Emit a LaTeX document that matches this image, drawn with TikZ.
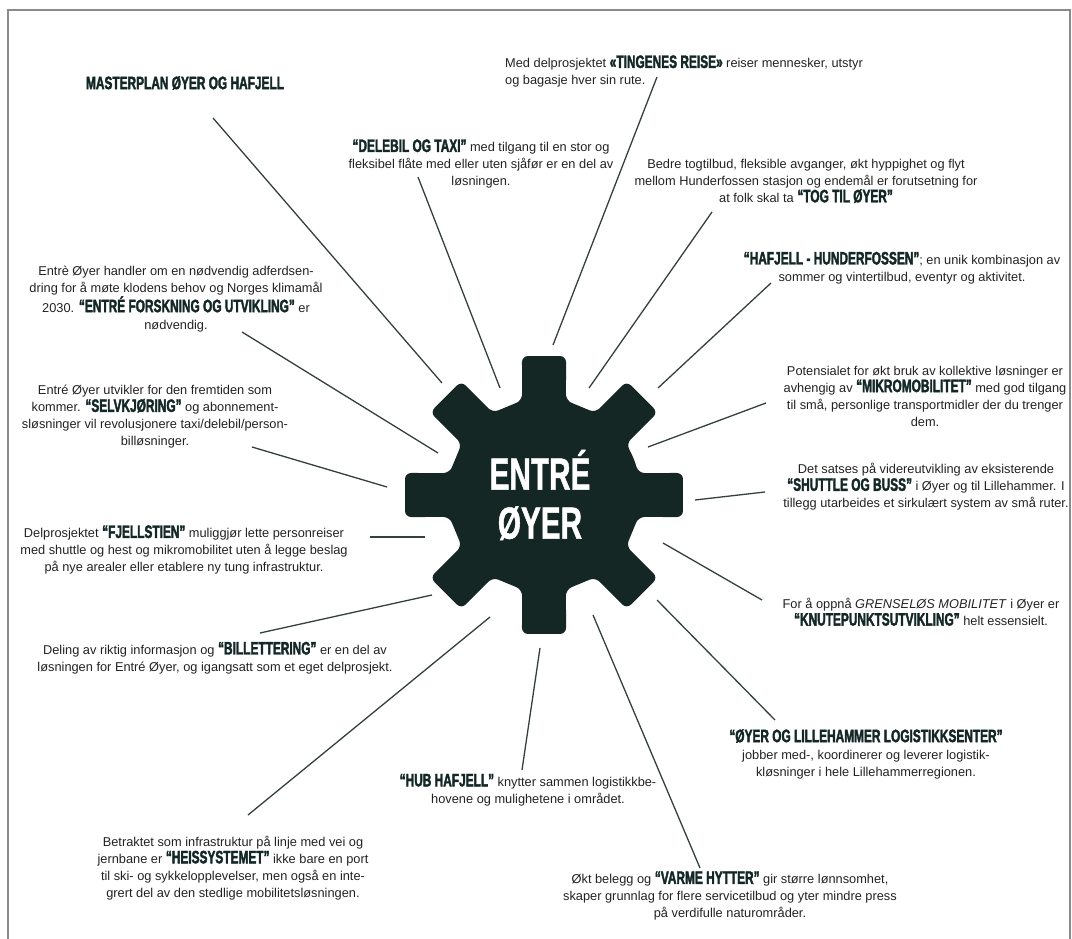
\documentclass[tikz,border=0pt]{standalone}
\usepackage{fontspec}
\setmainfont{Liberation Sans}
\newfontfamily\headfont{Liberation Sans}[FakeStretch=0.66,FakeBold=2]
\newfontfamily\gearfont{Liberation Sans}[FakeStretch=0.66,FakeBold=1]
\newcommand{\hd}[1]{{\headfont\bfseries\fontsize{18}{17}\selectfont\color{headtext}#1}}

\definecolor{gearfill}{HTML}{142725}
\definecolor{headtext}{HTML}{132826}
\definecolor{spoke}{HTML}{33403F}
\definecolor{framegray}{HTML}{8A8A8A}
\definecolor{bodytext}{HTML}{222222}
\tikzset{
  note/.style={align=center,inner sep=0pt,text=bodytext,
    font=\fontsize{12.8}{17}\selectfont},
  spokeline/.style={draw=spoke,line width=1.3pt},
  title/.style={inner sep=0pt,text=headtext,
    font=\headfont\bfseries\fontsize{18}{18}\selectfont},
}

\begin{document}
\begin{tikzpicture}[x=1pt,y=-1pt]
  \useasboundingbox (0,0) rectangle (1072,939);
  \draw[framegray,line width=2pt] (8,960) -- (8,10) -- (1070,10) -- (1070,960);

  % gear
  \begin{scope}[shift={(544,495)}]
    \fill[gearfill,rounded corners=6pt] (-22.5:97)
      \foreach \t in {0,45,...,315} {
        -- (\t-13.1:97) -- (\t-9:140.7) -- (\t+9:140.7) -- (\t+13.1:97)
      } -- cycle;
  \end{scope}
  \node[text=white,align=center,inner sep=0pt,
    font=\gearfont\bfseries\fontsize{45}{49}\selectfont] (entre) at (540,495) {ENTRÉ\\ØYER};

  % texts
  \node[title] (masterplan) at (185,83) {MASTERPLAN ØYER OG HAFJELL};
  \node[note,anchor=west,align=left] (tingenes) at (505,71.5)
    {Med delprosjektet \hd{«TINGENES REISE»} reiser mennesker, utstyr\\og bagasje hver sin rute.};
  \node[note] (delebil) at (481,164)
    {\hd{“DELEBIL OG TAXI”} med tilgang til en stor og\\fleksibel flåte med eller uten sjåfør er en del av\\løsningen.};
  \node[note] (tog) at (806,181)
    {Bedre togtilbud, fleksible avganger, økt hyppighet og flyt\\mellom Hunderfossen stasjon og endemål er forutsetning for\\at folk skal ta \hd{“TOG TIL ØYER”}};
  \node[note] (forskning) at (176,299)
    {Entrè Øyer handler om en nødvendig adferdsen-\\dring for å møte klodens behov og Norges klimamål\\2030. \hd{“ENTRÉ FORSKNING OG UTVIKLING”} er\\nødvendig.};
  \node[note] (hafjell) at (902,268)
    {\hd{“HAFJELL - HUNDERFOSSEN”}; en unik kombinasjon av\\sommer og vintertilbud, eventyr og aktivitet.};
  \node[note] (mikro) at (925,396)
    {Potensialet for økt bruk av kollektive løsninger er\\avhengig av \hd{“MIKROMOBILITET”} med god tilgang\\til små, personlige transportmidler der du trenger\\dem.};
  \node[note] (selvkjoring) at (155,417)
    {Entré Øyer utvikler for den fremtiden som\\kommer. \hd{“SELVKJØRING”} og abonnement-\\sløsninger vil revolusjonere taxi/delebil/person-\\billøsninger.};
  \node[note] (shuttle) at (926,487)
    {Det satses på videreutvikling av eksisterende\\\hd{“SHUTTLE OG BUSS”} i Øyer og til Lillehammer. I\\tillegg utarbeides et sirkulært system av små ruter.};
  \node[note] (fjellstien) at (184,550)
    {Delprosjektet \hd{“FJELLSTIEN”} muliggjør lette personreiser\\med shuttle og hest og mikromobilitet uten å legge beslag\\på nye arealer eller etablere ny tung infrastruktur.};
  \node[note] (knutepunkt) at (921,612)
    {For å oppnå \textit{GRENSELØS MOBILITET} i Øyer er\\\hd{“KNUTEPUNKTSUTVIKLING”} helt essensielt.};
  \node[note] (billettering) at (215,658)
    {Deling av riktig informasjon og \hd{“BILLETTERING”} er en del av\\løsningen for Entré Øyer, og igangsatt som et eget delprosjekt.};
  \node[note] (logistikk) at (866,754)
    {\hd{“ØYER OG LILLEHAMMER LOGISTIKKSENTER”}\\jobber med-, koordinerer og leverer logistik-\\kløsninger i hele Lillehammerregionen.};
  \node[note] (hub) at (528,790)
    {\hd{“HUB HAFJELL”} knytter sammen logistikkbe-\\hovene og mulighetene i området.};
  \node[note] (heis) at (233,868)
    {Betraktet som infrastruktur på linje med vei og\\jernbane er \hd{“HEISSYSTEMET”} ikke bare en port\\til ski- og sykkelopplevelser, men også en inte-\\grert del av den stedlige mobilitetsløsningen.};
  \node[note] (varme) at (730,896)
    {Økt belegg og \hd{“VARME HYTTER”} gir større lønnsomhet,\\skaper grunnlag for flere servicetilbud og yter mindre press\\på verdifulle naturområder.};

  % spokes
  \foreach \n/\ax/\ay/\bx/\by in {
      masterplan/213/118/442/383, tingenes/657/77/553/345,
      delebil/418/177/500/388, tog/712/212/589/388,
      hafjell/771/283/658/388, mikro/766/403/648/447,
      shuttle/765/492/695/500, knutepunkt/762/600/663/543,
      logistikk/775/720/657/600, varme/700/868/593/615,
      hub/522/770/540/648, heis/248/815/490/617,
      billettering/260/633/432/595, fjellstien/370/537/425/537,
      selvkjoring/252/447/387/487, forskning/242/332/438/453} {
    \coordinate (\n-from) at (\ax,\ay);
    \coordinate (\n-to) at (\bx,\by);
    \draw[spokeline] (\n-from) -- (\n-to);
  }
\end{tikzpicture}
\end{document}
